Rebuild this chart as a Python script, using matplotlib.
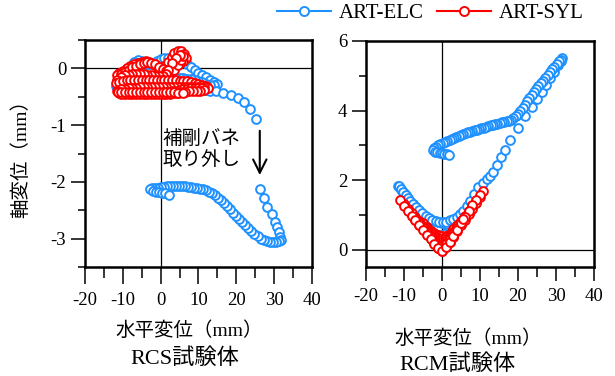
import matplotlib
matplotlib.use('Agg')
import matplotlib.pyplot as plt
from matplotlib.lines import Line2D
from matplotlib.ticker import MultipleLocator

plt.rcParams['font.family'] = ['Liberation Serif', 'Noto Sans CJK JP']
plt.rcParams['axes.unicode_minus'] = False

# RCS specimen, ART-ELC (horizontal mm, axial mm)
rcs_elc_x = [0, 1, 2, 3, 4, 5, 4, 3, 2, 1, 0, -1, -2, -3, -4, -5, -6, -7, -6, -5, -4, -3, -2, -1,
             0, 1, 2, 3, 4, 5, 6, 7, 8, 9, 10, 11, 12, 13, 14, 14.8,
             14, 13, 12, 11, 10, 9, 8, 7, 6, 5, 4, 3, 2, 1, 0, -1, -2, -3, -4, -5, -6, -7, -8, -9, -10, -11, -11.8,
             -11, -10, -9, -8, -7, -6, -5, -4, -3, -2, -1, 0, 1, 2, 3, 4, 5, 6, 7, 8, 9, 10, 11, 12, 13,
             14.6, 16.6, 18.6, 20.4, 22.1, 23.7, 25.2,
             26.3, 27.4, 28.1, 29.4, 30.1, 30.8, 31.2, 31.5, 31.7,
             31.2, 30.4, 29.6, 28.8, 28, 27.2, 26.4, 25.6, 24.8, 24, 23.2, 22.4, 21.6, 20.8, 20, 19.2, 18.4,
             17.6, 16.8, 16, 15.2, 14.4, 13.6, 12.8, 12, 11.2, 10.4, 9.6, 8.8, 8, 7.2, 6.4, 5.6, 4.8, 4,
             3.2, 2.4, 1.6, 0.8, 0, -0.8, -1.6, -2.4, -2.8, -2, -1.2, -0.4, 0.4, 1.2, 2.2]
rcs_elc_y = [0.00, 0.03, 0.06, 0.09, 0.11, 0.12, 0.09, 0.06, 0.03, 0.01, 0.02, 0.05, 0.08, 0.10, 0.12, 0.13, 0.15, 0.12, 0.10, 0.08, 0.07, 0.08, 0.10, 0.13,
             0.16, 0.18, 0.19, 0.18, 0.17, 0.15, 0.12, 0.08, 0.03, -0.02, -0.08, -0.12, -0.16, -0.20, -0.24, -0.28,
             -0.30, -0.29, -0.27, -0.24, -0.22, -0.20, -0.19, -0.18, -0.17, -0.17, -0.17, -0.17, -0.17, -0.17, -0.17, -0.18, -0.18, -0.19, -0.19, -0.20, -0.21, -0.22, -0.23, -0.24, -0.26, -0.28, -0.31,
             -0.34, -0.34, -0.34, -0.34, -0.34, -0.34, -0.34, -0.34, -0.34, -0.34, -0.34, -0.34, -0.34, -0.34, -0.34, -0.34, -0.34, -0.34, -0.35, -0.35, -0.35, -0.36, -0.37, -0.38, -0.39,
             -0.40, -0.43, -0.47, -0.52, -0.60, -0.72, -0.90,
             -2.13, -2.29, -2.44, -2.57, -2.71, -2.80, -2.89, -2.97, -3.02,
             -3.05, -3.06, -3.06, -3.06, -3.05, -3.03, -3.00, -2.96, -2.92, -2.87, -2.82, -2.76, -2.71, -2.65, -2.60, -2.54, -2.48,
             -2.42, -2.37, -2.32, -2.28, -2.24, -2.20, -2.17, -2.15, -2.13, -2.12, -2.11, -2.10, -2.09, -2.09, -2.08, -2.08, -2.08, -2.08,
             -2.08, -2.08, -2.08, -2.09, -2.09, -2.10, -2.10, -2.11, -2.13, -2.16, -2.17, -2.18, -2.19, -2.20, -2.23]

# RCS specimen, ART-SYL
rcs_syl_x = [0, 1, 2, 3, 3.5, 4.5, 5.5, 6.3, 6.6, 6, 5, 4, 3, 2, 1, 0, -1, -2, -3, -4, -5, -6, -7, -8, -9, -10, -11, -11.6,
             -10.5, -9.5, -8.5, -7.5, -6.5, -5.5, -4.5, -3.5, -2.5, -1.5, -0.5, 0.5, 1.5, 2.5, 3.5, 4.5, 5.5, 6, 5, 4, 3, 2,
             1.5, 0.5, -0.5, -1.5, -2.5, -3.5, -4.5, -5.5, -6.5, -7.5, -8.5, -9.5, -10.5, -11.5, -11.8,
             -11, -10, -9, -8, -7, -6, -5, -4, -3, -2, -1, 0, 1, 2, 3, 4, 5, 6, 7, 8, 9, 10, 11, 12, 12.4,
             11.5, 10.5, 9.5, 8.5, 7.5, 6.5, 5.5, 4.5, 3.5, 2.5, 1.5, 0.5, -0.5, -1.5, -2.5, -3.5, -4.5, -5.5, -6.5, -7.5, -8.5, -9.5, -10.5, -11.5,
             -11, -10, -9, -8, -7, -6, -5, -4, -3, -2, -1, 0, 1, 2, 3, 4, 5, 6, 7, 8, 9, 10, 11, 11.5,
             10.5, 9.5, 8.5, 7.5, 6.5, 5.5, 4.5, 3.5, 2.5, 1.5, 0.5, -0.5, -1.5, -2.5, -3.5, -4.5, -5.5, -6.5, -7.5, -8.5, -9.5, -10.5, -11.3,
             -10.5, -9.5, -8.5, -7.5, -6.5, -5.5, -4.5, -3.5, -2.5, -1.5, -0.5, 0.5, 1.5, 2.5, 3.5, 4.5, 5.8]
rcs_syl_y = [0.00, 0.05, 0.12, 0.20, 0.27, 0.30, 0.30, 0.26, 0.19, 0.13, 0.09, 0.05, 0.02, -0.02, -0.04, -0.02, 0.02, 0.07, 0.11, 0.13, 0.12, 0.10, 0.07, 0.04, 0.00, -0.04, -0.08, -0.12,
             -0.10, -0.06, -0.02, 0.02, 0.05, 0.08, 0.10, 0.11, 0.10, 0.07, 0.03, -0.01, -0.05, -0.06, -0.02, 0.06, 0.15, 0.22, 0.24, 0.19, 0.10, -0.02,
             -0.10, -0.14, -0.14, -0.13, -0.12, -0.11, -0.10, -0.10, -0.10, -0.10, -0.11, -0.12, -0.15, -0.20, -0.26,
             -0.24, -0.22, -0.21, -0.20, -0.20, -0.20, -0.20, -0.20, -0.20, -0.20, -0.20, -0.20, -0.20, -0.20, -0.21, -0.21, -0.22, -0.22, -0.23, -0.24, -0.25, -0.27, -0.29, -0.31, -0.34,
             -0.33, -0.33, -0.32, -0.32, -0.32, -0.32, -0.32, -0.32, -0.32, -0.32, -0.32, -0.32, -0.32, -0.32, -0.33, -0.33, -0.33, -0.33, -0.34, -0.34, -0.35, -0.36, -0.37, -0.39,
             -0.43, -0.44, -0.44, -0.44, -0.44, -0.44, -0.44, -0.44, -0.44, -0.44, -0.43, -0.43, -0.42, -0.41, -0.40, -0.39, -0.38, -0.37, -0.36, -0.35, -0.34, -0.34, -0.35, -0.38,
             -0.40, -0.40, -0.40, -0.40, -0.41, -0.42, -0.43, -0.44, -0.45, -0.46, -0.46, -0.46, -0.46, -0.46, -0.46, -0.46, -0.46, -0.46, -0.46, -0.46, -0.46, -0.45, -0.42,
             -0.41, -0.42, -0.42, -0.42, -0.42, -0.42, -0.42, -0.42, -0.42, -0.42, -0.42, -0.42, -0.42, -0.42, -0.42, -0.43, -0.44]

# RCM specimen, ART-ELC
rcm_elc_x = [0, 1, 2, 3, 2, 1, 0, -1, -2, -3, -2, -1, 0, 1, 2, 3, 4, 5, 4, 3, 2, 1, 0, -1, -2,
             -3.2, -4.5, -5.4, -6.2, -7, -7.7, -8.4, -9, -9.6, -10.1, -10.6, -11.1, -11.5,
             -11.2, -10.7, -10.2, -9.6, -9, -8.3, -7.6, -6.8, -6, -5.2, -4.3, -3.4, -2.5, -1.6, -0.7, 0.2, 1.1,
             2.1, 3, 3.9, 4.8, 5.6, 6.5, 7.4, 8.5, 9.6, 10.7, 11.8, 12.7, 13.5, 14.4, 15.5, 16.6, 17.9, 19.9,
             21.8, 23.6, 24.9, 26.2, 27.3, 28.4, 29.5, 30.5, 31.2, 31.6,
             31.3, 30.8, 30.2, 29.6, 29, 28.4, 27.8, 27.2, 26.6, 26, 25.4, 24.8, 24.2, 23.6, 23, 22.4, 21.8,
             21.2, 20.6, 20, 19.4, 18.8, 18.2, 17.6, 17, 16.4, 15.8, 15.2, 14.6, 14, 13.4, 12.8, 12.2, 11.6,
             11, 10.4, 9.8, 9.2, 8.6, 8, 7.4, 6.8, 6.2, 5.6, 5, 4.4, 3.8, 3.2, 2.6, 2, 1.4, 0.8, 0.2, -0.4,
             -1, -1.6, -2.1, -2.3, -1.8, -1.2, -0.6, 0, 0.6, 1.2, 1.9]
rcm_elc_y = [0.00, 0.12, 0.26, 0.40, 0.33, 0.27, 0.25, 0.30, 0.38, 0.48, 0.44, 0.42, 0.43, 0.48, 0.55, 0.63, 0.74, 0.86, 0.82, 0.78, 0.76, 0.75, 0.76, 0.78, 0.82,
             0.88, 0.98, 1.05, 1.13, 1.22, 1.30, 1.38, 1.46, 1.54, 1.62, 1.70, 1.78, 1.84,
             1.82, 1.74, 1.66, 1.57, 1.49, 1.40, 1.31, 1.22, 1.13, 1.05, 0.97, 0.90, 0.85, 0.81, 0.79, 0.79, 0.80,
             0.84, 0.88, 0.94, 1.02, 1.12, 1.26, 1.41, 1.60, 1.80, 1.93, 2.04, 2.13, 2.24, 2.42, 2.65, 2.86, 3.15, 3.50,
             3.83, 4.10, 4.33, 4.53, 4.74, 4.94, 5.12, 5.30, 5.43, 5.50,
             5.46, 5.41, 5.34, 5.26, 5.18, 5.10, 5.02, 4.94, 4.86, 4.78, 4.70, 4.62, 4.53, 4.44, 4.35, 4.26, 4.17,
             4.08, 3.99, 3.90, 3.83, 3.78, 3.74, 3.71, 3.69, 3.67, 3.66, 3.64, 3.62, 3.60, 3.59, 3.57, 3.55, 3.53,
             3.51, 3.49, 3.47, 3.45, 3.43, 3.41, 3.39, 3.37, 3.35, 3.33, 3.31, 3.28, 3.25, 3.22, 3.19, 3.16, 3.13, 3.10, 3.06, 3.03,
             3.00, 2.96, 2.92, 2.86, 2.82, 2.80, 2.79, 2.78, 2.76, 2.74, 2.71]

# RCM specimen, ART-SYL
rcm_syl_x = [0, 1, 2, 3, 2, 1, 0, -1, -2, -3, -2, -1, 0,
             1, 2, 3, 4, 5, 4, 3, 2, 1, 0, -1, -2, -3, -4, -5, -4, -3, -2, -1, 0,
             1, 2, 3, 4, 5, 6, 7, 6, 5, 4, 3, 2, 1, 0, -1, -2, -3, -4, -5, -6, -7, -6, -5, -4, -3, -2, -1, 0,
             1, 2, 3, 4, 5, 6, 7, 8, 9, 8, 7, 6, 5, 4, 3, 2, 1, 0, -1, -2, -3, -4, -5, -6, -7, -8, -9,
             -8, -7, -6, -5, -4, -3, -2, -1, 0,
             1, 2, 3, 4, 5, 6, 7, 8, 9, 10, 10.9, 10, 9, 8, 7, 6, 5, 4, 3, 2, 1, 0, -1, -2, -3, -4, -5,
             -6, -7, -8, -9, -10, -11.1, -10, -9, -8, -7, -6, -5, -4, -3, -2, -1, 0, 1, 2, 3, 4, 5, 5.6]
rcm_syl_y = [0.00, 0.10, 0.22, 0.36, 0.32, 0.30, 0.30, 0.36, 0.44, 0.54, 0.48, 0.42, 0.40,
             0.40, 0.45, 0.55, 0.68, 0.82, 0.70, 0.58, 0.45, 0.35, 0.30, 0.34, 0.42, 0.52, 0.64, 0.76, 0.62, 0.50, 0.38, 0.28, 0.22,
             0.30, 0.40, 0.52, 0.66, 0.80, 0.95, 1.10, 0.96, 0.82, 0.67, 0.52, 0.37, 0.24, 0.15, 0.22, 0.32, 0.44, 0.56, 0.69, 0.82, 0.95, 0.80, 0.66, 0.53, 0.40, 0.27, 0.16, 0.08,
             0.18, 0.30, 0.44, 0.59, 0.74, 0.90, 1.06, 1.22, 1.38, 1.24, 1.09, 0.93, 0.77, 0.60, 0.44, 0.28, 0.13, 0.02, 0.10, 0.22, 0.35, 0.48, 0.61, 0.75, 0.88, 1.02, 1.16,
             1.00, 0.86, 0.72, 0.58, 0.45, 0.32, 0.19, 0.06, -0.04,
             0.08, 0.22, 0.37, 0.53, 0.70, 0.86, 1.02, 1.18, 1.35, 1.52, 1.70, 1.57, 1.42, 1.27, 1.11, 0.95, 0.79, 0.62, 0.46, 0.30, 0.15, 0.02, 0.10, 0.22, 0.35, 0.48, 0.62,
             0.76, 0.90, 1.04, 1.18, 1.30, 1.42, 1.26, 1.12, 0.98, 0.84, 0.70, 0.56, 0.43, 0.30, 0.17, 0.05, -0.05, 0.08, 0.22, 0.38, 0.56, 0.76, 0.88]

blue = '#1e90ff'
red = '#ff0000'
mk = dict(ls='none', marker='o', ms=6.3, mew=1.4, mfc='white')

fig = plt.figure(figsize=(6.15, 3.76), dpi=100)
ax1 = fig.add_axes([0.1382, 0.2899, 0.3691, 0.6037])
ax2 = fig.add_axes([0.5951, 0.2899, 0.3707, 0.6011])

for ax in (ax1, ax2):
    ax.axhline(0, color='k', lw=0.9, zorder=1)
    ax.axvline(0, color='k', lw=0.9, zorder=1)
    ax.set_xlim(-20, 40)
    ax.xaxis.set_major_locator(MultipleLocator(10))
    ax.xaxis.set_minor_locator(MultipleLocator(5))
    for s in ax.spines.values():
        s.set_linewidth(1.8)
    ax.tick_params(which='both', direction='out', width=1.1, labelsize=13.5)
    ax.tick_params(axis='y', which='major', length=10)
    ax.tick_params(axis='y', which='minor', length=5)

ax1.tick_params(axis='x', which='major', length=12, pad=6)
ax1.tick_params(axis='x', which='minor', length=8)
ax2.tick_params(axis='x', which='major', length=10, pad=5)
ax2.tick_params(axis='x', which='minor', length=7)

ax1.plot(rcs_elc_x, rcs_elc_y, color=blue, mec=blue, zorder=3, **mk)
ax1.plot(rcs_syl_x, rcs_syl_y, color=red, mec=red, zorder=4, **mk)
ax2.plot(rcm_elc_x, rcm_elc_y, color=blue, mec=blue, zorder=3, **mk)
ax2.plot(rcm_syl_x, rcm_syl_y, color=red, mec=red, zorder=4, **mk)

ax1.set_ylim(-3.5, 0.5)
ax1.yaxis.set_major_locator(MultipleLocator(1))
ax1.yaxis.set_minor_locator(MultipleLocator(0.5))
ax2.set_ylim(-0.5, 6)
ax2.yaxis.set_major_locator(MultipleLocator(2))
ax2.yaxis.set_minor_locator(MultipleLocator(1))

ax1.set_ylabel('軸変位（mm）', fontsize=14)
ax1.yaxis.set_label_coords(-0.24, 0.5)

ax1.text(0.46, -0.28, '水平変位（mm）', transform=ax1.transAxes, ha='center', va='center', fontsize=14)
ax1.text(0.44, -0.405, 'RCS試験体', transform=ax1.transAxes, ha='center', va='center', fontsize=16)
ax2.text(0.45, -0.315, '水平変位（mm）', transform=ax2.transAxes, ha='center', va='center', fontsize=14)
ax2.text(0.40, -0.43, 'RCM試験体', transform=ax2.transAxes, ha='center', va='center', fontsize=16)

ax1.text(0.5, -1.43, '補剛バネ\n取り外し', fontsize=14, ha='left', va='center', linespacing=1.25)
ax1.annotate('', xy=(26.2, -1.93), xytext=(26.2, -1.05),
             arrowprops=dict(arrowstyle='->', lw=1.5, color='k', mutation_scale=24))

handles = [Line2D([], [], color=blue, marker='o', mfc='white', mec=blue, ms=6.5, mew=1.4, lw=1.5),
           Line2D([], [], color=red, marker='o', mfc='white', mec=red, ms=6.5, mew=1.4, lw=1.5)]
fig.legend(handles, ['ART-ELC', 'ART-SYL'], loc='center left', bbox_to_anchor=(0.45, 0.965),
           ncol=2, frameon=False, fontsize=15, borderaxespad=0, borderpad=0,
           handlelength=2.6, handletextpad=0.4, columnspacing=0.6)

fig.savefig('out.png', dpi=100)
